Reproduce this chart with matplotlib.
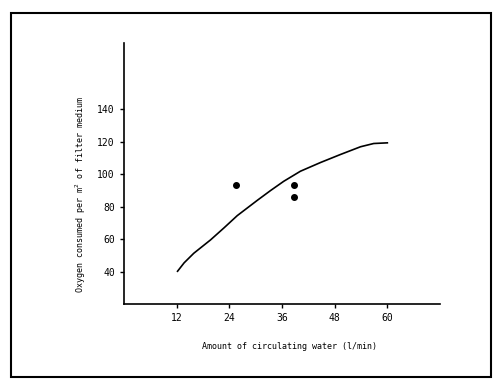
import matplotlib
matplotlib.use("Agg")
import matplotlib.pyplot as plt
from matplotlib.patches import Rectangle

# fitted curve
curve_x = [12.2, 13.7, 15.9, 19.7, 22.8, 25.8, 30.4, 33.4, 36.4, 40.2,
           44.8, 49.3, 53.9, 56.9, 60]
curve_y = [40.2, 45.4, 51.3, 59.5, 67.0, 74.5, 84.0, 90.0, 95.7, 101.9,
           107.3, 112.2, 117.0, 119.0, 119.4]

# measured points
pts_x = [25.6, 38.7, 38.7]
pts_y = [93.7, 93.7, 86.3]

xticks = [12, 24, 36, 48, 60]
yticks = [40, 60, 80, 100, 120, 140]

plt.rcParams['font.family'] = ['DejaVu Sans Mono']

fig = plt.figure(figsize=(5, 3.89), dpi=100)
ax = fig.add_axes([0.248, 0.2185, 0.632, 0.671])

ax.plot(curve_x, curve_y, 'k-', linewidth=1.2)
ax.plot(pts_x, pts_y, 'ko', markersize=4)

ax.set_xlim(0, 72)
ax.set_ylim(20, 181)
ax.set_xticks(xticks)
ax.set_yticks(yticks)
ax.tick_params(labelsize=7, length=3, width=1, direction='out')

for s in ['top', 'right']:
    ax.spines[s].set_visible(False)
for s in ['left', 'bottom']:
    ax.spines[s].set_linewidth(1.2)

ax.set_xlabel("Amount of circulating water (l/min)", fontsize=6)
ax.set_ylabel("Oxygen consumed per m$^2$ of filter medium", fontsize=6)
ax.yaxis.set_label_coords(-0.115, 0.42)
ax.xaxis.set_label_coords(0.525, -0.145)

# outer frame of the scanned figure
fig.patches.append(Rectangle((11 / 500, 12 / 389), 480 / 500, 364 / 389,
                             transform=fig.transFigure, fill=False,
                             edgecolor='black', linewidth=1.5))

fig.savefig("out.png", dpi=100)
